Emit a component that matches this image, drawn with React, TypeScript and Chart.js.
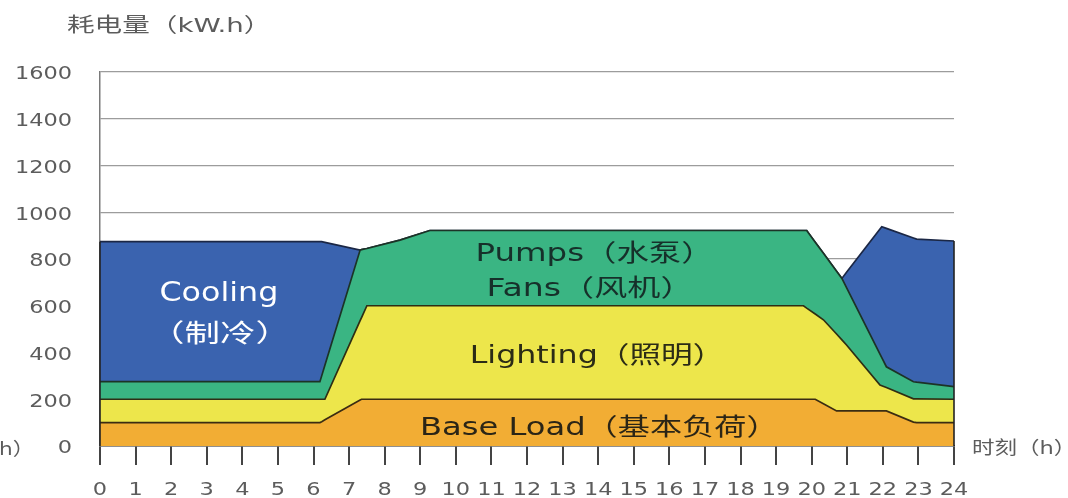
import React, { useEffect, useRef } from "react";
import { Chart, registerables } from "chart.js";

Chart.register(...registerables);

// ---- data (hours, incremental kWh per category) ----
const hours = [0, 6.18, 6.23, 6.32, 7.31, 7.35, 7.5, 8.43, 9.27, 19.77, 19.86, 20.1, 20.33, 20.7, 20.85, 20.98, 21.92, 21.97, 22.1, 22.86, 22.95, 24];
const baseLoad = [100, 100, 104, 112, 197, 200, 200, 200, 200, 200, 200, 200, 181, 150, 150, 150, 150, 150, 150, 102, 100, 100];
const lighting = [100, 100, 96, 88, 339, 349, 400, 400, 400, 400, 390, 365, 359, 329, 304, 282, 111, 108, 100, 100, 102, 100];
const pumpsFans = [75, 75, 100, 145, 302, 291, 245, 281, 322, 322, 332, 307, 285, 269, 263, 246, 132, 120, 89, 73, 71, 54];
const cooling = [599, 599, 574, 526, 0, 0, 0, 0, 0, 0, 0, 0, 0, 0, 0, 65, 535, 560, 592, 615, 612, 623];

const yTicks = [0, 200, 400, 600, 800, 1000, 1200, 1400, 1600];
const xTicks = [0, 1, 2, 3, 4, 5, 6, 7, 8, 9, 10, 11, 12, 13, 14, 15, 16, 17, 18, 19, 20, 21, 22, 23, 24];

const yTitle = "耗电量（kW.h）";
const xTitle = "时刻（h）";
const seriesNames = ["Base Load（基本负荷）", "Lighting（照明）", "Pumps（水泵）", "Fans（风机）", "Cooling", "（制冷）"];

// label placement in data coordinates (hour, kWh), plus style
const labelStyles = [
  { text: seriesNames[0], x: 14.03, y: 86, size: 24, sx: 1.34, color: "#2b2516" },
  { text: seriesNames[1], x: 13.97, y: 393, size: 24, sx: 1.32, color: "#2b2b16" },
  { text: seriesNames[2], x: 13.9, y: 830, size: 24, sx: 1.35, color: "#16302a" },
  { text: seriesNames[3], x: 13.77, y: 681, size: 24, sx: 1.38, color: "#16302a" },
  { text: seriesNames[4], x: 3.34, y: 660, size: 26, sx: 1.22, color: "#ffffff" },
  { text: seriesNames[5], x: 3.37, y: 483, size: 25, sx: 1.42, color: "#ffffff" },
];

const FONT = (s: number) => `${s}px "DejaVu Sans", "Noto Sans CJK SC", sans-serif`;
const SX = 1.32;
const AXIS_TEXT = "#5c5c5c";

function drawText(ctx: CanvasRenderingContext2D, text: string, x: number, y: number, size: number, color: string, align: string, sx: number = SX) {
  ctx.save();
  ctx.font = FONT(size);
  ctx.fillStyle = color;
  ctx.textBaseline = "alphabetic";
  ctx.textAlign = "left";
  const w = ctx.measureText(text).width * sx;
  const left = align === "center" ? x - w / 2 : align === "right" ? x - w : x;
  ctx.translate(left, y);
  ctx.scale(sx, 1);
  ctx.fillText(text, 0, 0);
  ctx.restore();
}

const textPlugin = {
  id: "textPlugin",
  afterDatasetsDraw(chart: any) {
    const ctx: CanvasRenderingContext2D = chart.ctx;
    const xs = chart.scales.x;
    const ys = chart.scales.y;
    // vertical edges of the stacked area
    ctx.save();
    ctx.strokeStyle = "#222";
    ctx.lineWidth = 1.6;
    [0, hours.length - 1].forEach((i) => {
      const total = baseLoad[i] + lighting[i] + pumpsFans[i] + cooling[i];
      const px = xs.getPixelForValue(hours[i]);
      ctx.beginPath();
      ctx.moveTo(px, ys.getPixelForValue(0));
      ctx.lineTo(px, ys.getPixelForValue(total));
      ctx.stroke();
    });
    ctx.restore();
    // area labels
    labelStyles.forEach((l) => {
      drawText(ctx, l.text, xs.getPixelForValue(l.x), ys.getPixelForValue(l.y) + 0.365 * l.size, l.size, l.color, "center", l.sx);
    });
  },
  afterDraw(chart: any) {
    const ctx: CanvasRenderingContext2D = chart.ctx;
    const xs = chart.scales.x;
    const ys = chart.scales.y;
    yTicks.forEach((v) => {
      drawText(ctx, String(v), 72, ys.getPixelForValue(v) + 7.3, 17, AXIS_TEXT, "right");
    });
    xTicks.forEach((v) => {
      drawText(ctx, String(v), xs.getPixelForValue(v), 495, 17, AXIS_TEXT, "center");
    });
    drawText(ctx, yTitle, 67, 31.5, 20, AXIS_TEXT, "left", 1.38);
    drawText(ctx, xTitle, 972, 453.5, 18, AXIS_TEXT, "left", 1.25);
    drawText(ctx, "h）", -1, 455, 18, AXIS_TEXT, "left", 1.2);
  },
};

export default function App() {
  const ref = useRef<HTMLCanvasElement | null>(null);
  useEffect(() => {
    if (!ref.current) return;
    const mk = (vals: number[]) => hours.map((h, i) => ({ x: h, y: vals[i] }));
    const common = { pointRadius: 0, tension: 0, borderWidth: 1.7 };
    const chart = new Chart(ref.current, {
      type: "line",
      data: {
        datasets: [
          { label: "Base Load", data: mk(baseLoad), backgroundColor: "#F2AD34", borderColor: "#3b2c12", fill: "origin", ...common },
          { label: "Lighting", data: mk(lighting), backgroundColor: "#EDE64B", borderColor: "#2e2e14", fill: "-1", ...common },
          { label: "Pumps / Fans", data: mk(pumpsFans), backgroundColor: "#3AB583", borderColor: "#1c3326", fill: "-1", ...common },
          { label: "Cooling", data: mk(cooling), backgroundColor: "#3A63AF", borderColor: "#1b2745", fill: "-1", ...common },
        ],
      },
      options: {
        responsive: false,
        animation: false,
        layout: { padding: { top: 72, right: 114, left: 0, bottom: 0 } },
        plugins: { legend: { display: false }, tooltip: { enabled: false } },
        scales: {
          x: {
            type: "linear",
            min: 0,
            max: 24,
            ticks: { stepSize: 1, display: false },
            grid: { drawOnChartArea: false, drawTicks: true, tickLength: 19, color: "#444", lineWidth: 2 },
            border: { display: true, color: "#3a3a3a", width: 1.5 },
            afterFit: (s: any) => { s.height = 52; },
          },
          y: {
            stacked: true,
            min: 0,
            max: 1600,
            ticks: { stepSize: 200, display: false },
            grid: { color: "#9c9c9c", lineWidth: 1.2, drawTicks: false },
            border: { display: true, color: "#7a7a7a", width: 1.5 },
            afterFit: (s: any) => { s.width = 100; },
          },
        },
      } as any,
      plugins: [textPlugin],
    });
    return () => chart.destroy();
  }, []);
  return (
    <div style={{ position: "absolute", left: 0, top: 0, width: 1068, height: 498, background: "#fff" }}>
      <canvas ref={ref} width={1068} height={498} />
    </div>
  );
}
